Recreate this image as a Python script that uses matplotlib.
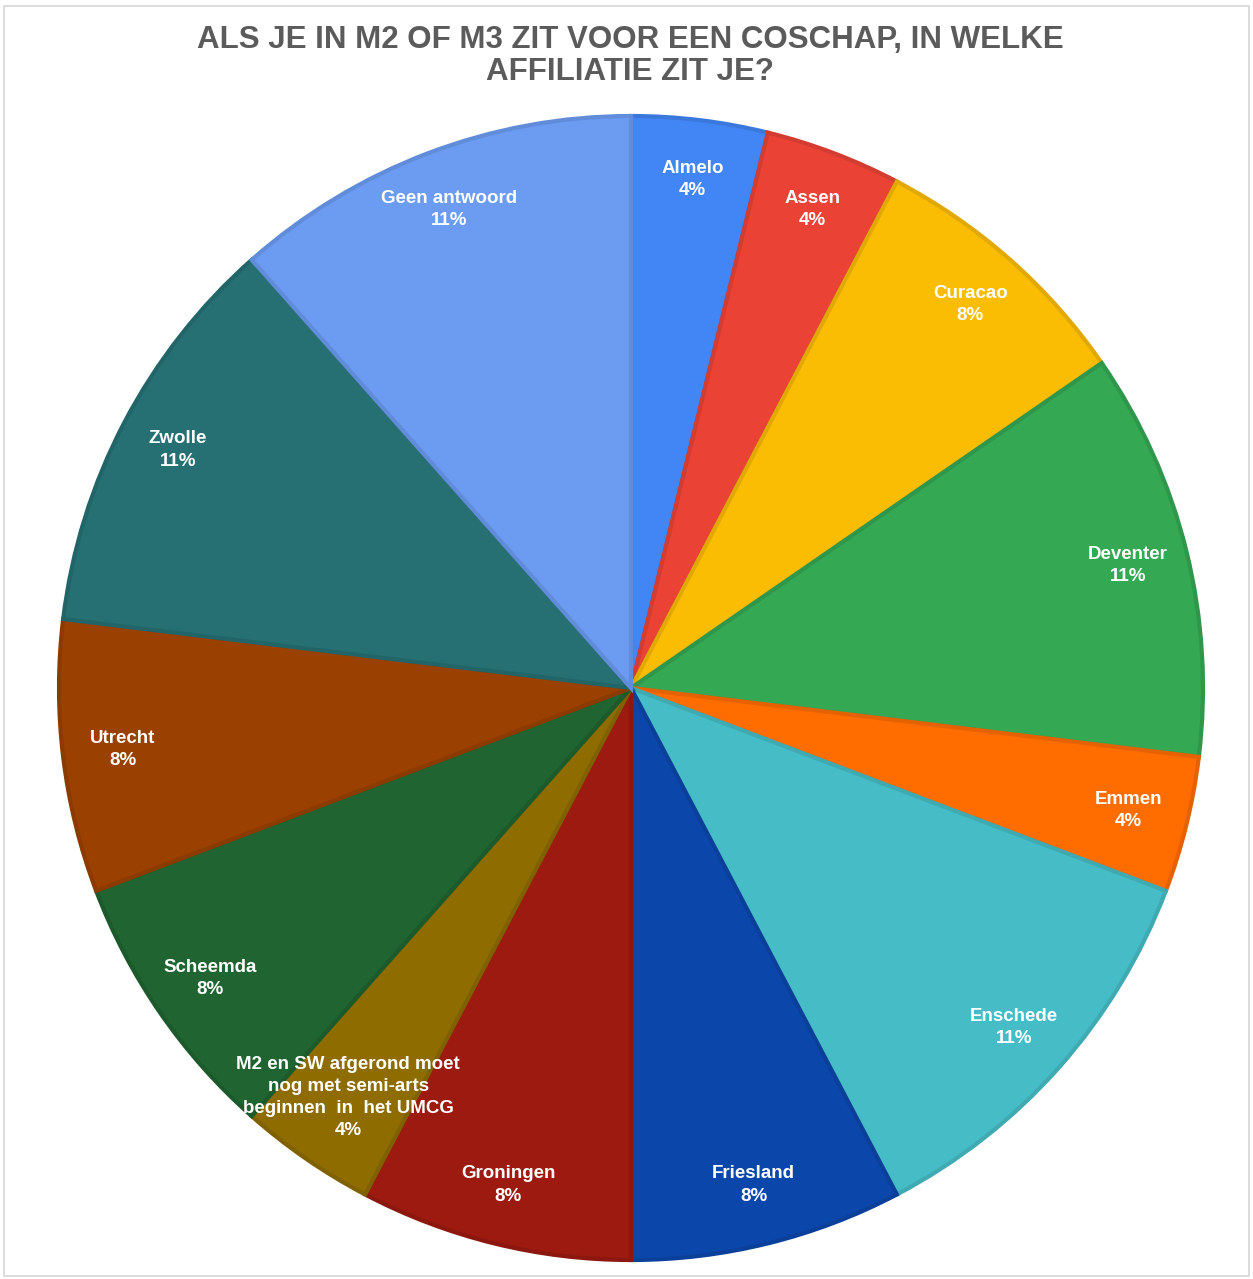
import matplotlib.pyplot as plt
import numpy as np
from matplotlib.colors import to_rgb
from matplotlib.patches import Rectangle

# survey answers (counts), clockwise from 12 o'clock
labels = ['Almelo', 'Assen', 'Curacao', 'Deventer', 'Emmen', 'Enschede',
          'Friesland', 'Groningen',
          'M2 en SW afgerond moet\nnog met semi-arts\nbeginnen  in  het UMCG',
          'Scheemda', 'Utrecht', 'Zwolle', 'Geen antwoord']
counts = [1, 1, 2, 3, 1, 3, 2, 2, 1, 2, 2, 3, 3]
pct_labels = ['4%', '4%', '8%', '11%', '4%', '11%', '8%', '8%', '4%', '8%', '8%', '11%', '11%']
colors = ['#4285f4', '#ea4335', '#fbbc04', '#34a853', '#ff6d01', '#46bdc6',
          '#0b47ab', '#9c1a10', '#8e6c00', '#1f6431', '#9a4000', '#267073', '#6b9cf2']

W, H = 1253, 1279
cx, cy, R = 631, 688, 572

plt.rcParams['font.family'] = ['Liberation Sans', 'DejaVu Sans']
fig = plt.figure(figsize=(W / 100, H / 100), dpi=100)

# light frame around the chart
fig.patches.append(Rectangle((4 / W, 1 - 1276 / H), 1245 / W, 1270 / H,
                             transform=fig.transFigure, fill=False,
                             edgecolor='#d6d6d6', linewidth=1.2))

ax = fig.add_axes([(cx - R) / W, (H - cy - R) / H, 2 * R / W, 2 * R / H])
edge = [tuple(np.array(to_rgb(c)) * 0.9) for c in colors]
wedges, _ = ax.pie(counts, colors=colors, startangle=90, counterclock=False,
                   radius=1.0, wedgeprops=dict(linewidth=3))
for w, e in zip(wedges, edge):
    w.set_edgecolor(e)

for w, name, pct in zip(wedges, labels, pct_labels):
    mid = np.deg2rad((w.theta1 + w.theta2) / 2)
    r = 0.87 if '\n' in name else 0.895
    ax.text(r * np.cos(mid), r * np.sin(mid), name + '\n' + pct,
            ha='center', va='center', color='white', fontsize=13.5,
            fontweight='bold', linespacing=1.4)

ax.set_xlim(-1, 1)
ax.set_ylim(-1, 1)
ax.set_aspect('equal')
ax.axis('off')

fig.text(630 / W, 1 - 56 / H, 'ALS JE IN M2 OF M3 ZIT VOOR EEN COSCHAP, IN WELKE\nAFFILIATIE ZIT JE?',
         ha='center', va='center', fontsize=22.5, fontweight='bold', color='#5b5b5b',
         linespacing=1.08)

fig.savefig('out.png', dpi=100, facecolor='white')
